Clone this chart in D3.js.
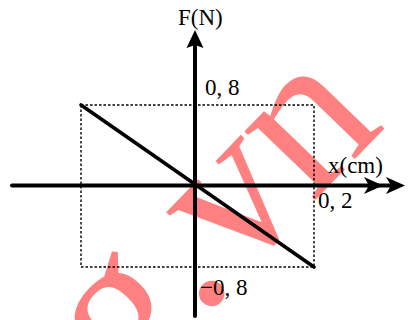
<!DOCTYPE html>
<html>
<head>
<meta charset="utf-8">
<script src="https://cdn.jsdelivr.net/npm/d3@7"></script>
<style>
  html, body { margin: 0; padding: 0; background: #fff; }
  svg { display: block; }
</style>
</head>
<body>
<svg id="chart" width="411" height="320"></svg>
<script>
// Displacement x (cm) and force F (N) at the two ends of the segment
const displacement = [-0.2, 0.2];
const force = [0.8, -0.8];
// Tick values marked on each axis
const xTickValues = [0.2];
const fTickValues = [0.8, -0.8];
const xTickLabels = ["0, 2"];
const fTickLabels = ["0, 8", "\u22120, 8"];
const axisTitles = { x: "x(cm)", y: "F(N)" };
const watermarkText = { head: "g", tail: ".vn" };

const svg = d3.select("#chart");

const x = d3.scaleLinear().domain([-0.2, 0, 0.2]).range([81, 195, 314]);
const y = d3.scaleLinear().domain([-0.8, 0, 0.8]).range([267, 185.5, 105]);

const serif = "'Liberation Serif', 'DejaVu Serif', serif";

// Watermark, drawn first so the graph sits over it
const wm = svg.append("g")
  .attr("transform", "translate(200,319.5) rotate(-46)")
  .attr("fill", "#ff8080")
  .style("font-family", serif)
  .style("font-size", "215px");
wm.append("text").attr("x", 0).attr("y", 0).attr("text-anchor", "end").text(watermarkText.head);
wm.append("text").attr("x", 0).attr("y", 0).text(watermarkText.tail);

// Dotted guide box at the extreme values
const [x0, x1] = d3.extent(displacement);
const [f0, f1] = d3.extent(force);
svg.append("rect")
  .attr("x", x(x0)).attr("y", y(f1))
  .attr("width", x(x1) - x(x0)).attr("height", y(f0) - y(f1))
  .attr("fill", "none").attr("stroke", "#000")
  .attr("stroke-width", 1.4).attr("stroke-dasharray", "2.5,2");

// Axes with arrowheads
const ax0 = x(0), ay0 = y(0);
const axisStroke = 4;
svg.append("line")
  .attr("x1", 12).attr("y1", ay0).attr("x2", 398).attr("y2", ay0)
  .attr("stroke", "#000").attr("stroke-width", axisStroke).attr("stroke-linecap", "round");
svg.append("line")
  .attr("x1", ax0).attr("y1", 316).attr("x2", ax0).attr("y2", 40)
  .attr("stroke", "#000").attr("stroke-width", axisStroke).attr("stroke-linecap", "round");

const head = "M0,0 L-19,-8.5 L-14,0 L-19,8.5 Z";
[383, 405].forEach(tx => {
  svg.append("path").attr("d", head)
    .attr("transform", `translate(${tx},${ay0})`).attr("fill", "#000");
});
svg.append("path").attr("d", "M0,0 L-18,-8.5 L-15,0 L-18,8.5 Z")
  .attr("transform", `translate(${ax0},30) rotate(-90)`).attr("fill", "#000");

// F = -k x segment
svg.append("path")
  .datum(d3.zip(displacement, force))
  .attr("d", d3.line().x(d => x(d[0])).y(d => y(d[1])))
  .attr("fill", "none").attr("stroke", "#000")
  .attr("stroke-width", 3.6).attr("stroke-linecap", "round");

// Labels
const label = (tx, ty, s) => svg.append("text")
  .attr("x", tx).attr("y", ty).text(s)
  .style("font-family", serif).style("font-size", "23px").attr("fill", "#000");

label(178, 25, axisTitles.y);
label(328, 173, axisTitles.x);
xTickValues.forEach((v, i) => label(x(v) + 4, ay0 + 22, xTickLabels[i]));
fTickValues.forEach((v, i) => {
  const ty = v > 0 ? y(v) - 10 : y(v) + 28;
  label(ax0 + (v > 0 ? 10 : 5), ty, fTickLabels[i]);
});
</script>
</body>
</html>
